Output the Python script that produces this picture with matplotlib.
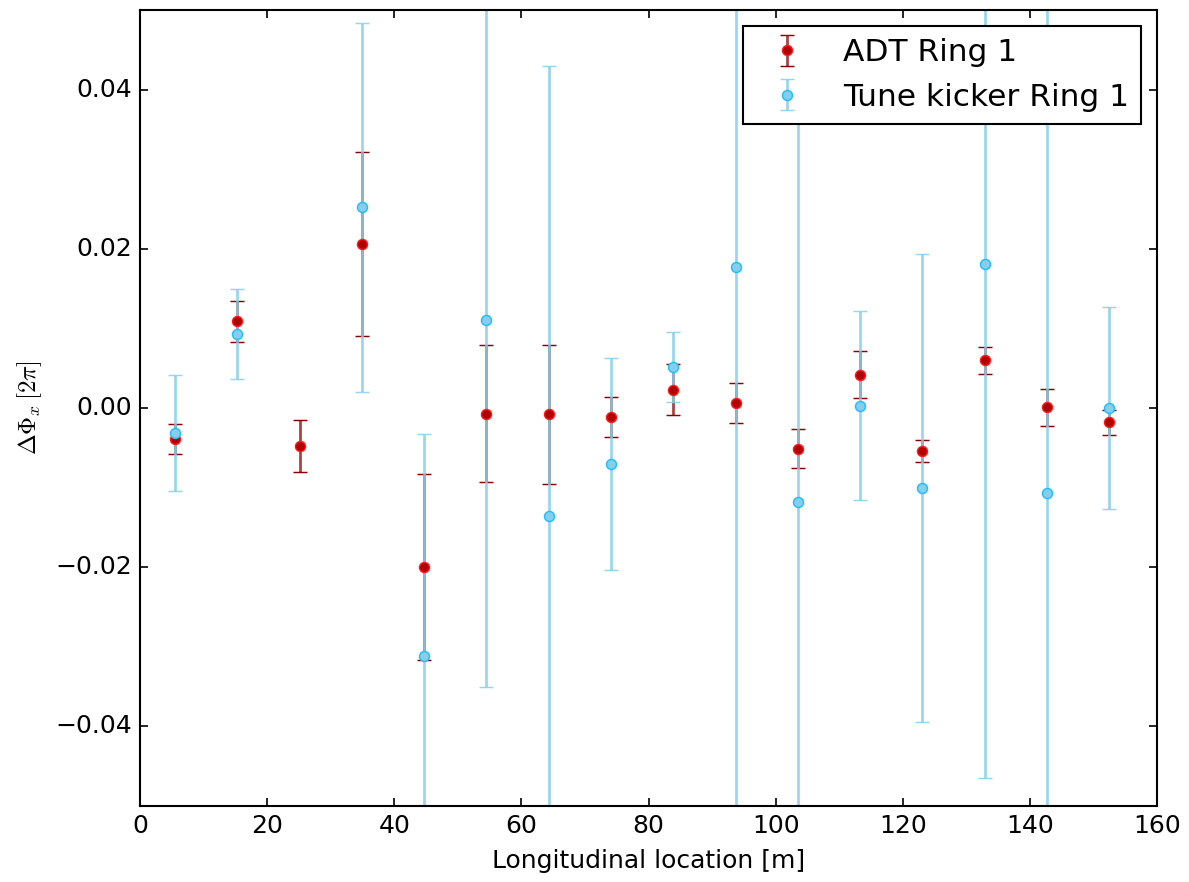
import matplotlib
matplotlib.use("Agg")
import matplotlib.pyplot as plt

plt.style.use("classic")

# ADT Ring 1 phase advance deviations
adt_s = [5.5, 15.3, 25.1, 34.9, 44.7, 54.5, 64.3, 74.1, 83.9, 93.7,
         103.5, 113.3, 123.1, 132.9, 142.7, 152.5]
adt_dphi = [-0.0039, 0.0109, -0.0048, 0.0206, -0.0200, -0.0007, -0.0008, -0.0011,
            0.0023, 0.0006, -0.0051, 0.0042, -0.0054, 0.0060, 0.0001, -0.0018]
adt_err = [0.0019, 0.0026, 0.0033, 0.0116, 0.0117, 0.0086, 0.0087, 0.0025,
           0.0032, 0.0025, 0.0025, 0.0029, 0.0014, 0.0017, 0.0023, 0.0016]

# Tune kicker Ring 1 phase advance deviations
tk_s = [5.5, 15.3, 34.9, 44.7, 54.5, 64.3, 74.1, 83.9, 93.7,
        103.5, 113.3, 123.1, 132.9, 142.7, 152.5]
tk_dphi = [-0.0031, 0.0093, 0.0252, -0.0311, 0.0111, -0.0136, -0.0070, 0.0051,
           0.0177, -0.0118, 0.0003, -0.0100, 0.0181, -0.0107, 0.0000]
tk_err = [0.0073, 0.0057, 0.0232, 0.0278, 0.0461, 0.0566, 0.0133, 0.0044,
          0.0850, 0.0550, 0.0119, 0.0294, 0.0646, 0.0700, 0.0127]

fig = plt.figure(figsize=(1189 / 150, 882 / 150), dpi=150, facecolor="white")
ax = fig.add_axes([140 / 1189, 1 - 806 / 882, (1157 - 140) / 1189, (806 - 10) / 882])
ax.set_facecolor("white")

e1 = ax.errorbar(adt_s, adt_dphi, yerr=adt_err, fmt="o", ms=4.8, mfc="#b00000",
                 mec="#ff1a1a", mew=0.7, ecolor="#8b0000", elinewidth=1.3,
                 capsize=3.4, capthick=1.0, label="ADT Ring 1")
for c in e1[2]:
    c.set_alpha(0.75)

e2 = ax.errorbar(tk_s, tk_dphi, yerr=tk_err, fmt="o", ms=4.8, mfc="#87CEEB",
                 mec="#1EBFFF", mew=0.7, ecolor="#87CEEB", elinewidth=1.3,
                 capsize=3.4, capthick=1.0, label="Tune kicker Ring 1")
for c in e2[2]:
    c.set_alpha(0.85)
for c in e2[1]:
    c.set_alpha(0.85)

ax.set_xlim(0, 160)
ax.set_ylim(-0.05, 0.05)
ax.set_xticks([0, 20, 40, 60, 80, 100, 120, 140, 160])
ax.set_yticks([-0.04, -0.02, 0.00, 0.02, 0.04])
ax.set_yticklabels(["\u22120.04", "\u22120.02", "0.00", "0.02", "0.04"])
ax.tick_params(direction="in", length=4, width=0.8, labelsize=12, top=True, right=True)
ax.minorticks_off()

ax.set_xlabel("Longitudinal location [m]", fontsize=12)
ax.set_ylabel(r"$\Delta\Phi_x\,[2\pi]$", fontsize=12)

leg = ax.legend(loc="upper right", numpoints=1, fontsize=15, fancybox=False,
                frameon=True)
leg.get_frame().set_edgecolor("black")
leg.get_frame().set_linewidth(1.0)

fig.savefig("out.png", dpi=150, facecolor="white")
